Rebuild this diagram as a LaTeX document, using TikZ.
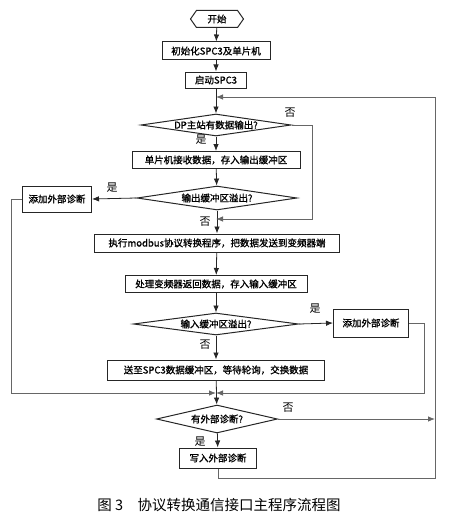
\documentclass[tikz,border=0pt]{standalone}
\usepackage{fontspec}
\setmainfont{Noto Sans CJK SC}
\newfontfamily\boxfont{Noto Sans CJK SC}[FakeBold=1.2]
\usetikzlibrary{arrows.meta,shapes.geometric,shapes.symbols}

\begin{document}
\begin{tikzpicture}[x=1pt, y=-1pt,
	line/.style={draw=black!85, line width=.8pt},
	arr/.style={line, -{Latex[length=7pt, width=5.5pt]}},
	back/.style={arr, draw=black!60},
	box/.style={draw=black!85, line width=1pt, rectangle, inner sep=0pt, font=\boxfont\fontsize{9.5}{11}\selectfont},
	test/.style={draw=black!85, line width=1pt, diamond, inner sep=0pt},
	note/.style={inner sep=0pt, font=\fontsize{11}{12}\selectfont}]

% \decision#name#x#y#width#height#text
\def\decision#1#2#3#4#5#6{
	\node[test, minimum width=#4, minimum height=#5] (#1) at (#2, #3) {};
	\node[inner sep=0pt, font=\boxfont\fontsize{9.5}{11}\selectfont] (#1-text) at (#1.center) {#6};
}

	\useasboundingbox (0, 0) rectangle (450, 519);

	% start
	\node[draw=black!85, line width=1pt, signal, signal to=west and east, signal pointer angle=110,
		minimum width=53, minimum height=17, inner sep=0pt, font=\boxfont\fontsize{9.5}{11}\selectfont] (start) at (217, 19) {开始};
	\node[box, minimum width=108, minimum height=18] (init) at (216, 51) {初始化SPC3及单片机};
	\node[box, minimum width=61, minimum height=16] (run) at (216, 80) {启动SPC3};

	% output side
	\decision{dp}{216}{125}{150}{22}{DP主站有数据输出?}
	\node[box, minimum width=168, minimum height=17] (recv) at (216, 160) {单片机接收数据，存入输出缓冲区};
	\decision{ovfout}{217}{198}{160}{24}{输出缓冲区溢出?}
	\node[box, minimum width=69, minimum height=26] (diagA) at (57, 199) {添加外部诊断};

	% modbus side
	\node[box, minimum width=245, minimum height=18] (exec) at (217, 243) {执行modbus协议转换程序，把数据发送到变频器端};
	\node[box, minimum width=182, minimum height=17] (inv) at (216, 284) {处理变频器返回数据，存入输入缓冲区};
	\decision{ovfin}{216}{324}{165}{22}{输入缓冲区溢出?}
	\node[box, minimum width=75, minimum height=28] (diagB) at (371, 323) {添加外部诊断};

	% exchange and diagnosis
	\node[box, minimum width=217, minimum height=20] (send) at (216, 370) {送至SPC3数据缓冲区，等待轮询，交换数据};
	\decision{hasdiag}{217}{419}{121}{28}{有外部诊断?}
	\node[box, minimum width=77, minimum height=20] (write) at (218, 458) {写入外部诊断};

	% junctions
	\coordinate (top) at (216, 97);
	\coordinate (skip) at (216, 219);
	\coordinate (skip-r) at (312, 219);
	\coordinate (join) at (216, 393);
	\coordinate (corner) at (435, 478);

	% main flow
	\draw[arr] (start) -- (init);
	\draw[arr] (init) -- (run);
	\draw[arr] (run) -- (dp);
	\draw[arr] (dp) -- (recv);
	\draw[arr] (recv) -- (ovfout);
	\draw[arr] (ovfout) -- (exec);
	\draw[arr] (exec) -- (inv);
	\draw[arr] (inv) -- (ovfin);
	\draw[arr] (ovfin) -- (send);
	\draw[arr] (send) -- (hasdiag);
	\draw[arr] (hasdiag) -- (write);

	% branches
	\draw[back] (dp.east) -| (skip-r) -- (skip);
	\draw[arr] (ovfout.west) -- (diagA.east);
	\draw[back] (diagA.west) -- ++(-11, 0) |- (join);
	\draw[arr] (ovfin.east) -- (diagB.west);
	\draw[back] (diagB.east) -- ++(15, 0) |- (join);
	\draw[back] (hasdiag.east) -- (hasdiag.east -| corner);
	\draw[back] (write.south) |- (corner) |- (top);

	% yes / no
	\node[note] (no1) at (290, 113) {否};
	\node[note] (yes1) at (201, 140) {是};
	\node[note] (yes2) at (112, 188) {是};
	\node[note] (no2) at (205, 222) {否};
	\node[note] (yes3) at (315, 309) {是};
	\node[note] (no3) at (205, 345) {否};
	\node[note] (no4) at (288, 408) {否};
	\node[note] (yes4) at (200, 442) {是};

	% caption
	\node[font=\fontsize{14.5}{16}\selectfont] (caption) at (219, 505) {图 3\quad 协议转换通信接口主程序流程图};
\end{tikzpicture}
\end{document}
